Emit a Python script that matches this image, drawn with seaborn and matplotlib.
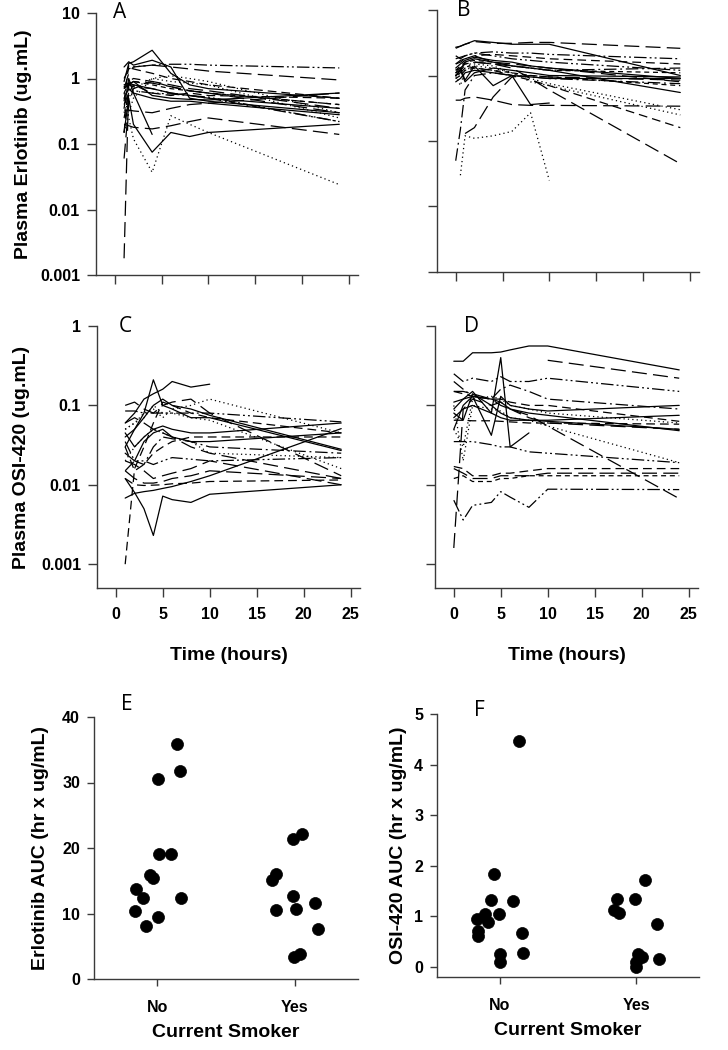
import numpy as np
import pandas as pd
import matplotlib
matplotlib.use("Agg")
import matplotlib.pyplot as plt
import seaborn as sns

sns.set_theme(style="ticks")
plt.rcParams['font.family'] = ['Liberation Sans', 'DejaVu Sans']

NaN = np.nan

# ---------------- Panel A: plasma erlotinib, group 1 ----------------
a_times = [1, 1.5, 2, 4, 6, 8, 10, 24]
a_conc = [
    [1.5, 1.8, 1.6, 1.9, 1.5, 0.5, 0.45, 0.3],
    [0.15, 0.5, 0.2, 0.075, 0.15, 0.13, 0.15, 0.2],
    [0.6, 0.25, 0.12, 0.037, 0.27, 0.2, 0.15, 0.024],
    [0.0018, 0.8, 0.9, 0.85, 0.75, 0.65, 0.6, 0.3],
    [1.0, 1.4, 1.5, 1.6, 1.65, 1.65, 1.6, 1.45],
    [0.7, 1.2, 1.5, 1.6, 1.5, 1.4, 1.3, 0.95],
    [0.33, 0.33, 0.32, 0.3, 0.35, 0.4, 0.42, 0.6],
    [0.8, 0.85, 0.8, 0.7, 0.6, 0.55, 0.5, 0.35],
    [0.15, 0.9, 1.0, 0.9, 0.75, 0.65, 0.6, 0.4],
    [0.9, 1.7, 1.8, 2.7, 1.2, 0.8, 0.7, 0.5],
    [0.3, 0.5, 0.7, 1.0, 0.9, 0.85, 0.8, 0.25],
    [0.7, 0.8, 0.75, 0.7, 0.6, 0.55, 0.5, 0.22],
    [0.35, 1.0, 0.6, 0.14, NaN, NaN, NaN, NaN],
    [0.25, 0.6, 0.8, 0.6, 0.55, 0.6, 0.55, 0.5],
    [0.5, 0.7, 0.6, 0.5, 0.45, 0.45, 0.42, 0.28],
    [0.2, 0.19, 0.18, 0.17, 0.19, 0.22, 0.25, 0.14],
    [0.4, 0.6, 0.65, 0.6, 0.58, 0.55, 0.52, 0.22],
    [0.6, 0.85, 0.9, 0.8, 0.7, 0.65, 0.6, 0.4],
    [0.75, 0.8, 0.9, 0.55, 0.5, 0.48, 0.47, 0.6],
    [0.45, 1.6, 1.4, 1.2, 1.0, 0.9, 0.8, 0.5],
    [0.15, 0.3, 0.5, 1.0, 1.1, 1.0, 0.9, 0.3],
    [0.06, 0.4, 0.7, 0.9, 0.8, 0.7, 0.65, 0.35],
]
a_styles = ['solid', 'solid', 'dot', 'long', 'dashdotdot', 'long', 'long', 'solid',
            'dash', 'solid', 'dot', 'dashdot', 'solid', 'dash', 'solid', 'long',
            'dashdotdot', 'short', 'solid', 'dash', 'dot', 'long']

# ---------------- Panel B: plasma erlotinib, group 2 ----------------
b_times = [0, 0.5, 1, 2, 4, 6, 8, 10, 24]
b_conc = [
    [2.6, 2.8, 3.0, 3.3, 3.1, 3.1, 3.2, 3.2, 2.6],
    [2.7, 2.8, 3.0, 3.4, 3.2, 3.0, 3.0, 3.0, 1.0],
    [1.2, 1.3, 1.5, 1.6, 1.5, 1.3, 0.9, 0.6, 0.045],
    [1.1, 1.2, 1.4, 1.3, 1.2, 1.0, 0.85, 0.7, 0.16],
    [NaN, 0.03, 0.12, 0.11, 0.12, 0.14, 0.27, 0.025, NaN],
    [0.42, 0.42, 0.45, 0.47, 0.42, 0.36, 0.35, 0.35, 0.34],
    [0.05, 0.15, 0.6, 1.0, 1.1, 1.0, 0.95, 0.9, 0.75],
    [NaN, NaN, 0.13, 0.16, 0.47, 0.95, 1.0, 0.95, 0.85],
    [1.0, 0.7, 1.2, 1.4, 1.3, 1.1, 0.8, 0.7, 0.25],
    [0.9, 1.1, 1.5, 1.5, 1.4, 1.1, 0.9, 0.75, 0.3],
    [1.8, 1.9, 2.0, 2.2, 2.3, 2.2, 2.2, 2.1, 1.8],
    [1.5, 1.6, 1.8, 2.0, 2.1, 2.0, 1.9, 1.8, 1.5],
    [1.0, 1.2, 1.6, 1.8, 1.6, 1.4, 1.3, 1.2, 0.55],
    [1.1, 1.3, 0.85, 1.4, 0.7, 1.0, 0.36, 0.38, NaN],
    [1.3, 1.5, 1.7, 1.9, 1.7, 1.6, 1.4, 1.3, 0.9],
    [1.0, 1.1, 1.3, 1.6, 1.5, 1.4, 1.3, 1.2, 1.3],
    [1.2, 1.4, 1.6, 1.7, 1.6, 1.4, 1.3, 1.2, 1.1],
    [0.8, 0.9, 1.1, 1.2, 1.1, 1.0, 0.95, 0.9, 0.9],
    [2.0, 1.8, 2.0, 2.2, 2.0, 1.8, 1.7, 1.6, 1.2],
    [1.5, 1.7, 1.8, 2.0, 1.6, 1.5, 1.4, 1.3, 0.8],
    [1.0, 1.2, 0.8, 1.1, 1.3, 1.2, 1.1, 1.0, 0.95],
    [0.9, 1.0, 1.2, 1.3, 1.2, 1.1, 1.0, 0.95, 0.7],
]
b_styles = ['long', 'solid', 'long', 'dash', 'dot', 'long', 'dashdot', 'long',
            'dot', 'dot', 'dashdotdot', 'dash', 'solid', 'solid', 'solid', 'dashdot',
            'short', 'solid', 'dashdotdot', 'long', 'solid', 'short']

# ---------------- Panel C: plasma OSI-420, group 1 ----------------
c_times = [1, 2, 3, 4, 5, 6, 8, 10, 24]
c_conc = [
    [0.06, 0.08, 0.12, 0.14, 0.16, 0.2, 0.17, 0.185, NaN],
    [0.012, 0.008, 0.005, 0.0023, 0.0072, 0.0065, 0.006, 0.0076, 0.0100],
    [0.0068, 0.0078, 0.0082, 0.0085, 0.009, 0.0095, 0.011, 0.013, 0.051],
    [0.001, 0.016, 0.03, 0.06, 0.11, 0.1, 0.08, 0.07, 0.045],
    [0.085, 0.085, 0.08, 0.08, 0.08, 0.08, 0.08, 0.08, 0.062],
    [0.05, 0.06, 0.08, 0.09, 0.07, 0.09, 0.1, 0.12, 0.045],
    [0.1, 0.11, 0.09, 0.08, 0.1, 0.11, 0.12, 0.08, 0.013],
    [0.045, 0.03, 0.04, 0.05, 0.055, 0.05, 0.045, 0.045, 0.06],
    [0.03, 0.015, 0.018, 0.025, 0.03, 0.035, 0.04, 0.04, 0.04],
    [0.04, 0.05, 0.08, 0.21, 0.1, 0.09, 0.07, 0.07, 0.027],
    [0.015, 0.012, 0.0105, 0.0105, 0.011, 0.012, 0.013, 0.015, 0.012],
    [0.012, 0.01, 0.0098, 0.0099, 0.01, 0.0103, 0.0105, 0.011, 0.0115],
    [0.02, 0.018, 0.015, 0.012, 0.013, 0.014, 0.016, 0.02, 0.01],
    [0.02, 0.03, 0.04, 0.05, 0.045, 0.04, 0.035, 0.025, 0.022],
    [0.035, 0.02, 0.018, 0.03, 0.04, 0.038, 0.035, 0.03, 0.025],
    [0.03, 0.05, 0.07, 0.1, 0.12, 0.1, 0.09, 0.075, 0.028],
    [0.06, 0.07, 0.06, 0.05, 0.045, 0.04, 0.03, 0.025, 0.012],
    [0.025, 0.02, 0.035, 0.045, 0.05, 0.04, 0.035, 0.035, 0.045],
    [0.015, 0.02, 0.02, 0.018, 0.02, 0.022, 0.021, 0.02, 0.022],
    [0.05, 0.06, 0.07, 0.1, 0.08, 0.08, 0.07, 0.065, 0.016],
]
c_styles = ['solid', 'solid', 'solid', 'dash', 'dashdotdot', 'dot', 'long', 'solid',
            'dash', 'solid', 'long', 'dash', 'long', 'dot', 'dashdot', 'solid',
            'long', 'solid', 'dashdotdot', 'dot']

# ---------------- Panel D: plasma OSI-420, group 2 ----------------
d_times = [0, 1, 2, 4, 5, 6, 8, 10, 24]
d_conc = [
    [0.36, 0.36, 0.46, 0.46, 0.47, 0.5, 0.56, 0.56, 0.28],
    [NaN, NaN, NaN, NaN, NaN, NaN, NaN, 0.37, 0.22],
    [0.25, 0.2, 0.22, 0.2, 0.23, 0.2, 0.2, 0.22, 0.15],
    [0.09, 0.12, 0.15, 0.08, 0.4, 0.03, 0.045, NaN, NaN],
    [0.0064, 0.0036, 0.0055, 0.006, 0.0082, 0.007, 0.0052, 0.0088, 0.0087],
    [0.0016, 0.09, 0.12, 0.1, 0.11, 0.09, 0.07, 0.06, 0.05],
    [0.017, 0.016, 0.013, 0.013, 0.014, 0.014, 0.015, 0.016, 0.016],
    [0.016, 0.014, 0.012, 0.012, 0.013, 0.013, 0.013, 0.014, 0.014],
    [0.035, 0.035, 0.035, 0.032, 0.03, 0.03, 0.026, 0.025, 0.019],
    [0.15, 0.15, 0.14, 0.12, 0.1, 0.09, 0.075, 0.055, 0.0067],
    [0.1, 0.02, 0.1, 0.09, 0.085, 0.07, 0.065, 0.055, 0.019],
    [0.08, 0.065, 0.14, 0.1, 0.08, 0.07, 0.065, 0.063, 0.05],
    [0.15, 0.14, 0.13, 0.12, 0.12, 0.11, 0.1, 0.1, 0.063],
    [0.05, 0.1, 0.13, 0.042, 0.13, 0.1, 0.09, 0.085, 0.1],
    [0.2, 0.16, 0.13, 0.12, 0.16, 0.18, 0.15, 0.12, 0.09],
    [0.07, 0.09, 0.1, 0.08, 0.07, 0.065, 0.065, 0.065, 0.075],
    [0.065, 0.065, 0.064, 0.064, 0.063, 0.062, 0.06, 0.06, 0.058],
    [0.11, 0.12, 0.13, 0.12, 0.11, 0.09, 0.08, 0.075, 0.048],
    [0.05, 0.03, 0.12, 0.13, 0.12, 0.1, 0.09, 0.08, 0.06],
    [0.012, 0.013, 0.011, 0.011, 0.012, 0.012, 0.013, 0.013, 0.013],
]
d_styles = ['solid', 'long', 'dashdotdot', 'solid', 'dashdotdot', 'long', 'dash', 'long',
            'dashdotdot', 'long', 'dot', 'solid', 'dash', 'solid', 'dashdot', 'solid',
            'dash', 'solid', 'dot', 'short']

log_ticks = [0.001, 0.01, 0.1, 1, 10]
log_labels = ['0.001', '0.01', '0.1', '1', '10']
time_ticks = [0, 5, 10, 15, 20, 25]

# ---------------- Panel E / F: AUC by smoking status ----------------
smoker_cats = ['No', 'Yes']
e_no = [13.67, 12.3, 10.4, 8.1, 15.9, 15.35, 30.5, 19.05, 9.5, 19.05, 35.9, 31.7, 12.3]
e_no_jit = [-0.157, -0.101, -0.159, -0.085, -0.053, -0.034, 0.007, 0.010, 0.005, 0.097, 0.147, 0.167, 0.174]
e_yes = [15.1, 16.1, 10.5, 21.45, 22.2, 12.65, 10.67, 11.54, 7.57, 3.4, 3.76]
e_yes_jit = [-0.164, -0.133, -0.138, -0.012, 0.056, -0.010, 0.012, 0.145, 0.169, -0.007, 0.041]

f_no = [0.94, 0.71, 0.61, 1.04, 0.88, 1.33, 1.83, 1.04, 0.26, 0.09, 1.30, 0.67, 0.28, 4.46]
f_no_jit = [-0.165, -0.163, -0.163, -0.105, -0.088, -0.063, -0.041, -0.002, 0.0, 0.005, 0.097, 0.165, 0.172, 0.143]
f_yes = [1.12, 1.34, 1.06, 1.34, 1.72, 0.84, 0.25, 0.20, 0.10, 0.0, 0.15]
f_yes_jit = [-0.165, -0.139, -0.129, -0.007, 0.061, 0.151, 0.015, 0.044, -0.005, 0.0, 0.165]

DASHES = {
    'solid': '',
    'long': (12, 5),
    'dash': (7, 4),
    'short': (4, 3),
    'dot': (1, 2.5),
    'dashdot': (10, 3, 1.5, 3),
    'dashdotdot': (10, 2.5, 1.5, 2.5, 1.5, 2.5),
}

SPINE = '#3a3a3a'
W, H = 728, 1050
fig = plt.figure(figsize=(W / 100, H / 100), dpi=100)


def box(l, t, r, b):
    return [l / W, 1 - b / H, (r - l) / W, (b - t) / H]


def spaghetti(ax, times, conc, styles):
    rows = []
    for i, vals in enumerate(conc):
        for t, v in zip(times, vals):
            if not np.isnan(v):
                rows.append((f"s{i:02d}", t, v))
    df = pd.DataFrame(rows, columns=['subject', 'time', 'conc'])
    dmap = {f"s{i:02d}": DASHES[s] for i, s in enumerate(styles)}
    sns.lineplot(data=df, x='time', y='conc', style='subject', dashes=dmap,
                 color='black', linewidth=0.9, estimator=None, errorbar=None,
                 legend=False, sort=False, ax=ax)
    ax.set_yscale('log')
    ax.set_xlim(-2, 26)
    ax.set_xticks(time_ticks)
    ax.set_yticks(log_ticks)
    ax.minorticks_off()
    ax.set_xlabel('')
    ax.set_ylabel('')


def style_axes(ax, ticklen):
    sns.despine(ax=ax)
    for s in ['left', 'bottom']:
        ax.spines[s].set_color(SPINE)
        ax.spines[s].set_linewidth(1.0)
    ax.tick_params(axis='both', which='both', direction='out', length=ticklen,
                   width=1.0, color=SPINE, labelsize=11.5, pad=5)
    for lab in ax.get_xticklabels() + ax.get_yticklabels():
        lab.set_fontweight('bold')
        lab.set_color('black')


axA = fig.add_axes(box(96, 13, 358, 275))
axB = fig.add_axes(box(437, 10, 699, 272))
axC = fig.add_axes(box(97, 326, 360, 588))
axD = fig.add_axes(box(435, 326, 698, 588))

spaghetti(axA, a_times, a_conc, a_styles)
spaghetti(axB, b_times, b_conc, b_styles)
spaghetti(axC, c_times, c_conc, c_styles)
spaghetti(axD, d_times, d_conc, d_styles)

axA.set_ylim(0.001, 10)
axB.set_ylim(0.001, 10)
axC.set_ylim(10 ** -3.3, 1)
axD.set_ylim(10 ** -3.3, 1)

axA.set_yticks(log_ticks)
axA.set_yticklabels(log_labels)
axB.set_yticks(log_ticks)
axC.set_yticks(log_ticks[:4])
axC.set_yticklabels(log_labels[:4])
axD.set_yticks(log_ticks[:4])

for ax in [axA, axB, axC, axD]:
    ax.set_xticklabels([str(t) for t in time_ticks])
    style_axes(ax, 6.5)

axA.tick_params(labelbottom=False)
axB.tick_params(labelbottom=False, labelleft=False)
axD.tick_params(labelleft=False)
axC.tick_params(axis='x', pad=7)
axD.tick_params(axis='x', pad=7)

lab_kw = dict(fontsize=14, fontweight='bold', color='black')
axA.set_ylabel('Plasma Erlotinib (ug.mL)', **lab_kw)
axA.yaxis.set_label_coords(-0.245, 0.5)
axC.set_ylabel('Plasma OSI-420 (ug.mL)', **lab_kw)
axC.yaxis.set_label_coords(-0.255, 0.5)
axC.set_xlabel('Time (hours)', **lab_kw)
axC.xaxis.set_label_coords(0.5, -0.225)
axD.set_xlabel('Time (hours)', **lab_kw)
axD.xaxis.set_label_coords(0.5, -0.225)

# ---------------- scatter panels ----------------
axE = fig.add_axes(box(94, 717, 358, 979))
axF = fig.add_axes(box(437, 714, 699, 977))


def auc_panel(ax, no_vals, no_jit, yes_vals, yes_jit):
    x = [0 + j for j in no_jit] + [1 + j for j in yes_jit]
    y = list(no_vals) + list(yes_vals)
    sns.scatterplot(x=x, y=y, color='black', s=75, edgecolor='black',
                    linewidth=0.5, ax=ax, legend=False, zorder=3)
    ax.set_xlim(-0.46, 1.46)
    ax.set_xticks([0, 1])
    ax.set_xticklabels(smoker_cats)


auc_panel(axE, e_no, e_no_jit, e_yes, e_yes_jit)
auc_panel(axF, f_no, f_no_jit, f_yes, f_yes_jit)
axE.set_ylim(0, 40)
axE.set_yticks([0, 10, 20, 30, 40])
axF.set_ylim(-0.2, 5)
axF.set_yticks([0, 1, 2, 3, 4, 5])
for ax in [axE, axF]:
    style_axes(ax, 5)
    ax.tick_params(axis='x', pad=10)
    ax.set_xlabel('Current Smoker', **lab_kw)
    ax.xaxis.set_label_coords(0.5, -0.17)

axE.set_ylabel('Erlotinib AUC (hr x ug/mL)', **lab_kw)
axE.yaxis.set_label_coords(-0.17, 0.5)
axF.set_ylabel('OSI-420 AUC (hr x ug/mL)', **lab_kw)
axF.yaxis.set_label_coords(-0.115, 0.5)

# panel letters
letter_kw = dict(fontsize=15, family=['Open Sans', 'DejaVu Sans'], ha='center', va='center', color='black')
for lt, (px, py) in {'A': (120, 13), 'B': (464, 11), 'C': (125, 326),
                     'D': (472, 326), 'E': (127, 704), 'F': (479, 711)}.items():
    fig.text(px / W, 1 - py / H, lt, **letter_kw)

fig.savefig('out.png', dpi=100)
